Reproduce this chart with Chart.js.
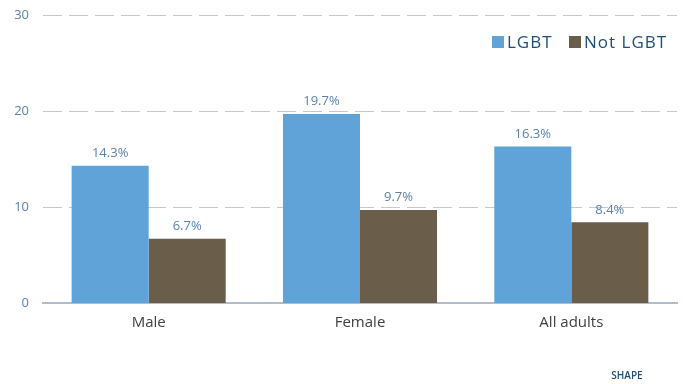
<!DOCTYPE html>
<html>
<head>
<meta charset="utf-8">
<script src="https://cdn.jsdelivr.net/npm/chart.js@4/dist/chart.umd.min.js"></script>
<style>
  html, body { margin: 0; padding: 0; background: #fff; }
  #wrap { width: 683px; height: 384px; }
</style>
</head>
<body>
<div id="wrap"><canvas id="chart"></canvas></div>
<script>
// categories and series
const groups = ['Male', 'Female', 'All adults'];
const lgbt = [14.3, 19.7, 16.3];
const notLgbt = [6.7, 9.7, 8.4];
const yTicks = [0, 10, 20, 30];

const FONT = '"Open Sans", "Noto Sans", sans-serif';

// value labels above each bar
const barLabels = {
  id: 'barLabels',
  afterDatasetsDraw(chart) {
    const ctx = chart.ctx;
    ctx.save();
    ctx.font = '13px ' + FONT;
    ctx.fillStyle = '#5b82ad';
    ctx.textAlign = 'center';
    ctx.textBaseline = 'bottom';
    chart.data.datasets.forEach((ds, i) => {
      chart.getDatasetMeta(i).data.forEach((bar, j) => {
        ctx.fillText(ds.data[j].toFixed(1) + '%', bar.x, bar.y - 6);
      });
    });
    ctx.restore();
  }
};

// legend in the top right of the plot, plus the source tag at the bottom
const legendAndTag = {
  id: 'legendAndTag',
  afterDraw(chart) {
    const ctx = chart.ctx;
    ctx.save();
    ctx.font = '17px ' + FONT;
    ctx.letterSpacing = '1px';
    ctx.textBaseline = 'middle';
    ctx.textAlign = 'left';
    const starts = [492, 569];
    const y = 42;
    chart.data.datasets.forEach((ds, i) => {
      const x = starts[i];
      ctx.fillStyle = ds.backgroundColor;
      ctx.fillRect(x, y - 6, 12, 12);
      ctx.fillStyle = '#1f4e79';
      ctx.fillText(ds.label, x + 15, y + 1);
    });

    ctx.letterSpacing = '0px';
    ctx.font = '600 10px ' + FONT;
    ctx.textAlign = 'center';
    ctx.fillStyle = '#1f4e79';
    ctx.fillText('SHAPE', 627, 376);
    ctx.restore();
  }
};

new Chart(document.getElementById('chart'), {
  type: 'bar',
  data: {
    labels: groups,
    datasets: [
      { label: 'LGBT', data: lgbt, backgroundColor: '#5fa3d9' },
      { label: 'Not LGBT', data: notLgbt, backgroundColor: '#6a5e4a' }
    ]
  },
  options: {
    responsive: true,
    maintainAspectRatio: false,
    animation: false,
    layout: { padding: { top: 15, right: 6, left: 0, bottom: 41 } },
    datasets: { bar: { categoryPercentage: 0.729, barPercentage: 1 } },
    scales: {
      x: {
        grid: { display: false },
        border: { color: '#b4bccb', width: 2 },
        ticks: { color: '#404040', font: { family: FONT, size: 15 }, padding: 3 },
        afterFit(scale) { scale.height = 40; }
      },
      y: {
        min: 0,
        max: 30,
        afterBuildTicks(scale) { scale.ticks = yTicks.map(v => ({ value: v })); },
        afterFit(scale) {
          scale.width = 43;
          scale.paddingTop = 0;
          scale.paddingBottom = 0;
        },
        border: { display: false, dash: [19, 7] },
        grid: {
          color: '#c8c8c8',
          drawTicks: false,
          lineWidth: (c) => (c.tick && c.tick.value === 0 ? 0 : 1)
        },
        ticks: { color: '#5b82ad', font: { family: FONT, size: 13 }, padding: 14 }
      }
    },
    plugins: {
      legend: { display: false },
      title: { display: false },
      tooltip: { enabled: false }
    }
  },
  plugins: [barLabels, legendAndTag]
});
</script>
</body>
</html>
